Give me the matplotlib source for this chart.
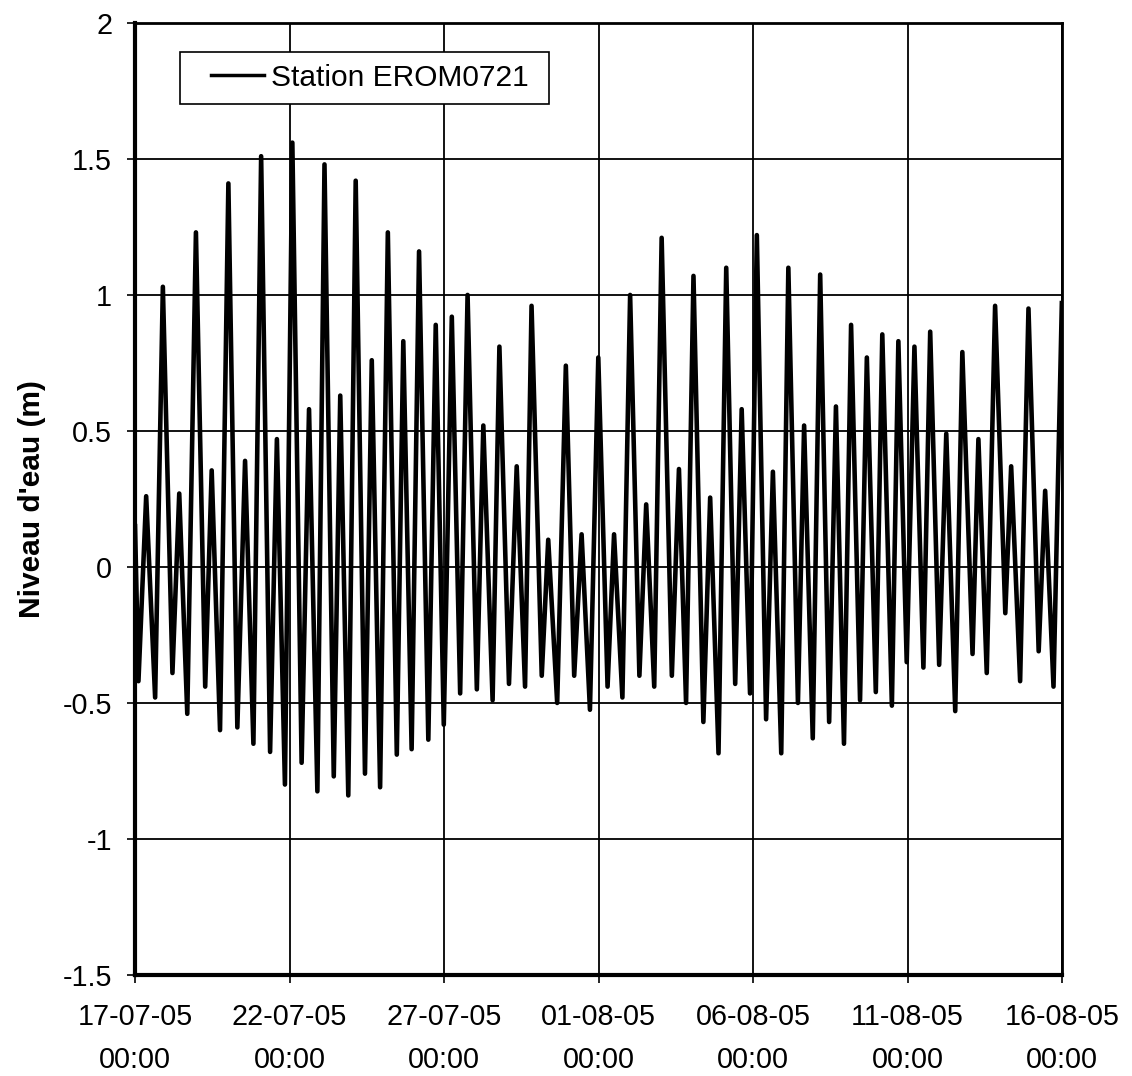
import matplotlib
matplotlib.use("Agg")
import matplotlib.pyplot as plt
from matplotlib.legend_handler import HandlerLine2D
import numpy as np
import pandas as pd

# high / low water levels (days after 17-07-05 00:00, metres)
jours = [0.00, 0.11, 0.36, 0.65, 0.90, 1.21, 1.43, 1.69, 1.97, 2.27,
         2.48, 2.75, 3.02, 3.31, 3.56, 3.83, 4.08, 4.37, 4.59, 4.85,
         5.09, 5.39, 5.63, 5.90, 6.13, 6.43, 6.64, 6.90, 7.14, 7.44,
         7.66, 7.93, 8.18, 8.47, 8.68, 8.95, 9.19, 9.49, 9.73, 9.99,
         10.25, 10.52, 10.76, 11.06, 11.27, 11.57, 11.79, 12.10, 12.35, 12.62,
         12.83, 13.16, 13.37, 13.66, 13.94, 14.21, 14.45, 14.72, 14.99, 15.29,
         15.50, 15.77, 16.02, 16.32, 16.54, 16.80, 17.04, 17.37, 17.60, 17.83,
         18.07, 18.39, 18.61, 18.88, 19.13, 19.42, 19.63, 19.90, 20.12, 20.42,
         20.64, 20.91, 21.14, 21.45, 21.65, 21.93, 22.17, 22.46, 22.68, 22.94,
         23.17, 23.46, 23.68, 23.97, 24.18, 24.49, 24.70, 24.97, 25.22, 25.51,
         25.73, 26.02, 26.25, 26.54, 26.77, 27.10, 27.29, 27.56, 27.83, 28.16,
         28.35, 28.64, 28.91, 29.24, 29.45, 29.72, 29.99]
niveau = [0.15, -0.42, 0.26, -0.48, 1.03, -0.39, 0.27, -0.54, 1.23, -0.44,
          0.355, -0.60, 1.41, -0.59, 0.39, -0.65, 1.51, -0.68, 0.47, -0.80,
          1.56, -0.72, 0.58, -0.825, 1.48, -0.77, 0.63, -0.84, 1.42, -0.76,
          0.76, -0.81, 1.23, -0.69, 0.83, -0.67, 1.16, -0.635, 0.89, -0.58,
          0.92, -0.465, 1.00, -0.45, 0.52, -0.49, 0.81, -0.43, 0.37, -0.44,
          0.96, -0.40, 0.10, -0.50, 0.74, -0.40, 0.12, -0.525, 0.77, -0.44,
          0.12, -0.48, 1.00, -0.40, 0.23, -0.44, 1.21, -0.40, 0.36, -0.50,
          1.07, -0.57, 0.255, -0.685, 1.10, -0.43, 0.58, -0.465, 1.22, -0.56,
          0.35, -0.685, 1.10, -0.50, 0.52, -0.63, 1.075, -0.57, 0.59, -0.65,
          0.89, -0.49, 0.77, -0.46, 0.855, -0.51, 0.83, -0.35, 0.81, -0.37,
          0.865, -0.36, 0.49, -0.53, 0.79, -0.32, 0.47, -0.39, 0.96, -0.17,
          0.37, -0.42, 0.95, -0.31, 0.28, -0.44, 0.97]

debut = pd.Timestamp("2005-07-17 00:00")
temps = debut + pd.to_timedelta(jours, unit="D")

y_ticks = [2, 1.5, 1, 0.5, 0, -0.5, -1, -1.5]
y_labels = ["2", "1.5", "1", "0.5", "0", "-0.5", "-1", "-1.5"]
x_ticks = pd.date_range("2005-07-17", "2005-08-16", freq="5D")


class LigneDecalee(HandlerLine2D):
    # leaves some blank room left of the legend line, like the original
    def create_artists(self, legend, orig_handle, xdescent, ydescent,
                       width, height, fontsize, trans):
        shift = 0.65 * fontsize
        return super().create_artists(legend, orig_handle, xdescent - shift, ydescent,
                                      width - shift, height, fontsize, trans)


plt.rcParams["font.family"] = ["Liberation Sans", "DejaVu Sans"]
fs = 20.7

fig = plt.figure(figsize=(11.32, 10.76), dpi=100)
ax = fig.add_axes([0.1193, 0.0939, 0.819, 0.8848])

ligne, = ax.plot(temps, niveau, color="black", lw=3.3, solid_joinstyle="round",
                 label="Station EROM0721 ", zorder=3)

ax.set_xlim(x_ticks[0], x_ticks[-1])
ax.set_ylim(-1.5, 2)
ax.set_yticks(y_ticks)
ax.set_yticklabels(y_labels, fontsize=fs)
ax.set_xticks(x_ticks)
ax.set_xticklabels([d.strftime("%d-%m-%y") + "\n00:00" for d in x_ticks],
                   fontsize=fs, linespacing=1.7)
ax.tick_params(axis="both", direction="out", length=6, width=1.2, color="black")
ax.tick_params(axis="y", pad=10.5)
ax.tick_params(axis="x", pad=14)

ax.grid(True, color="black", lw=1.3)
ax.set_axisbelow(True)
for side, w in [("left", 3), ("bottom", 3), ("top", 2), ("right", 2)]:
    ax.spines[side].set_linewidth(w)
    ax.spines[side].set_color("black")

ax.set_ylabel("Niveau d'eau (m)", fontsize=21.5, fontweight="bold", labelpad=12)

leg = ax.legend(loc="upper left", bbox_to_anchor=(0.0485, 0.9695), borderaxespad=0,
                fontsize=21.5, handlelength=2.4, handletextpad=0.25, borderpad=0.4,
                fancybox=False, framealpha=1, edgecolor="black",
                handler_map={ligne: LigneDecalee()})
leg.get_frame().set_linewidth(1.2)
leg.get_lines()[0].set_linewidth(2.5)

fig.savefig("out.png", dpi=100, facecolor="white")
